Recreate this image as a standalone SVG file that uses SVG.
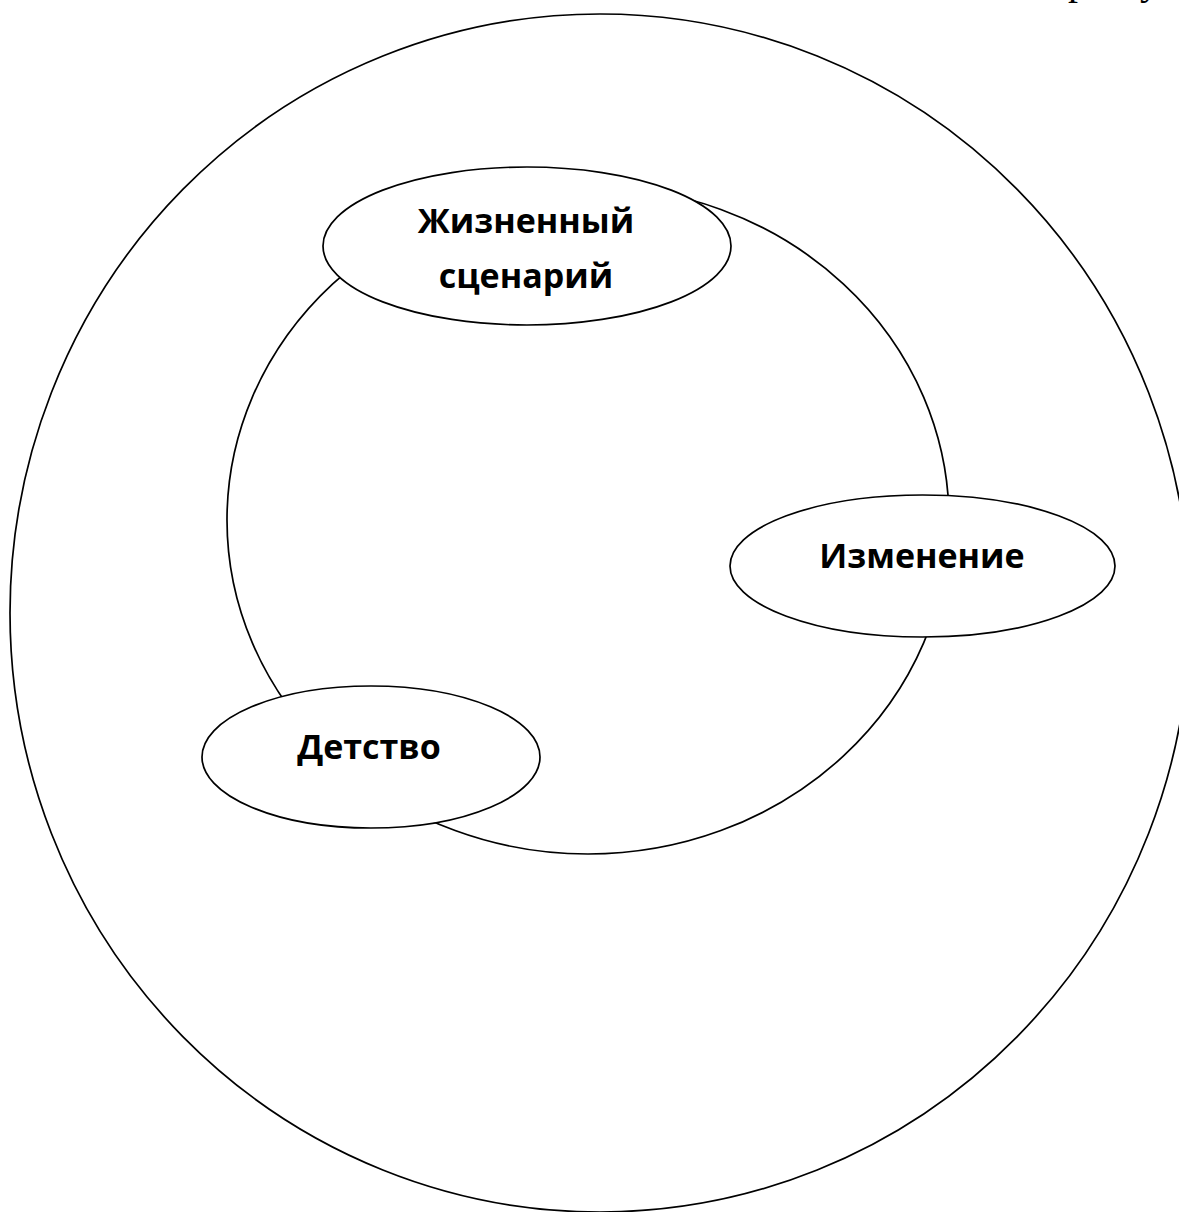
<svg xmlns="http://www.w3.org/2000/svg" width="1179" height="1212" viewBox="0 0 1179 1212">
<style>
.shape{fill:none;stroke:#000;stroke-width:1.7}
.node{fill:#fff;stroke:#000;stroke-width:1.7}
.lbl{font-family:"Open Sans","Noto Sans","DejaVu Sans",sans-serif;font-weight:bold;font-size:34px;fill:#000;text-anchor:middle}
.frag{font-family:"Liberation Serif",serif;font-size:40px;fill:#000}
</style>
<rect width="1179" height="1212" fill="#fff"/>
<text class="frag" x="1068" y="-6">р</text>
<text class="frag" x="1140" y="-6">у</text>
<g id="outer">
<ellipse class="shape" cx="600" cy="613" rx="590" ry="599"/>
</g>
<g id="cycle">
<ellipse class="shape" cx="588" cy="520" rx="361" ry="334"/>
</g>
<g id="node-scenario">
<ellipse class="node" cx="527" cy="246" rx="204" ry="79"/>
<text class="lbl" x="526" y="233">Жизненный</text>
<text class="lbl" x="526" y="288">сценарий</text>
</g>
<g id="node-change">
<ellipse class="node" cx="922.5" cy="566" rx="192.5" ry="71"/>
<text class="lbl" x="922" y="568">Изменение</text>
</g>
<g id="node-childhood">
<ellipse class="node" cx="371" cy="757" rx="169" ry="71"/>
<text class="lbl" x="369" y="759">Детство</text>
</g>
<g id="connectors"></g>
</svg>
